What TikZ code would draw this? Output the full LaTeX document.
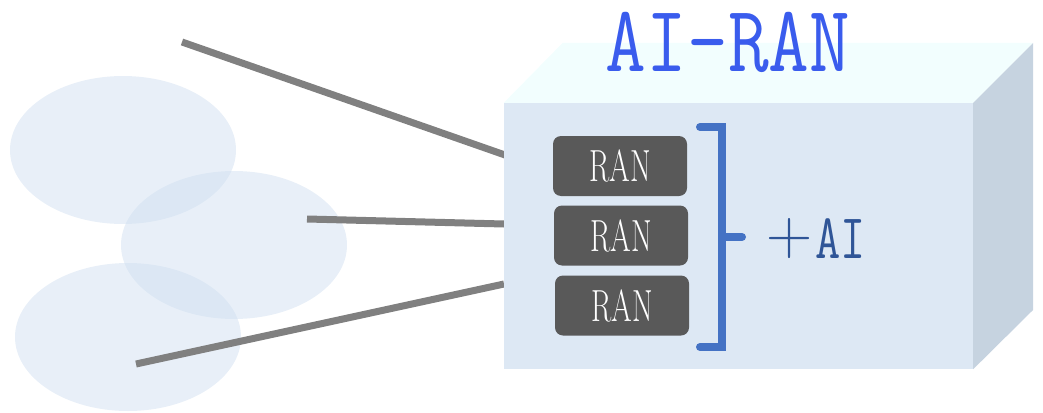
\documentclass[tikz,border=0pt]{standalone}
\usepackage{fontspec}
\definecolor{cellc}{RGB}{207,222,240}
\definecolor{frontc}{RGB}{221,232,244}
\definecolor{topc}{RGB}{242,254,254}
\definecolor{sidec}{RGB}{198,211,224}
\definecolor{linec}{RGB}{128,128,128}
\definecolor{ranc}{RGB}{89,89,89}
\definecolor{titlec}{RGB}{58,92,237}
\definecolor{bracketc}{RGB}{68,114,196}
\definecolor{aic}{RGB}{47,85,151}
\tikzset{
  cell/.style={fill=cellc, fill opacity=0.48},
  link/.style={draw=linec, line width=7pt},
  ranbox/.style={fill=ranc, rounded corners=8pt, minimum width=134pt, minimum height=60pt, inner sep=0pt, text=white},
  bracketline/.style={draw=bracketc, line width=8pt, line cap=round},
}
\newcommand{\rantext}{\scalebox{0.66}[1]{\fontsize{45}{45}\selectfont RAN}}
\begin{document}
\begin{tikzpicture}[x=1pt,y=-1pt]
\useasboundingbox (0,0) rectangle (1043,412);
% cells
\fill[cell] (123,150) ellipse [x radius=113pt, y radius=74pt];
\fill[cell] (234,245) ellipse [x radius=113pt, y radius=74pt];
\fill[cell] (128,337) ellipse [x radius=113pt, y radius=74pt];
% link ends
\coordinate (s1) at (182,42);
\coordinate (e1) at (505,155);
\coordinate (s2) at (307,219);
\coordinate (e2) at (504,224);
\coordinate (s3) at (136,364);
\coordinate (e3) at (504,284);
\draw[link] (s1) -- (e1);
\draw[link] (s2) -- (e2);
\draw[link] (s3) -- (e3);
% cube
\node[fill=frontc, minimum width=469pt, minimum height=266pt, inner sep=0pt] (front) at (738.5,236) {};
\fill[topc] (front.north west) -- ++(59,-60) -- ++(470,0) -- (front.north east) -- cycle;
\fill[sidec] (front.north east) -- ++(60,-60) -- ++(0,267) -- (front.south east) -- cycle;
% RAN boxes
\node[ranbox] (ran1) at (620,166) {\rantext};
\node[ranbox] (ran2) at (621,235.5) {\rantext};
\node[ranbox] (ran3) at (622,305.5) {\rantext};
% bracket
\coordinate (b1) at (700,127);
\coordinate (b2) at (722,127);
\coordinate (b3) at (722,347);
\coordinate (b4) at (700,347);
\coordinate (m1) at (722,237);
\coordinate (m2) at (742,237);
\draw[bracketline] (b1) -- (b2) -- (b3) -- (b4);
\draw[bracketline] (m1) -- (m2);
% texts
\node[anchor=base, text=titlec, inner sep=0pt] (title) at (728,71) {\scalebox{1}[1.2]{\fontsize{79}{79}\selectfont\ttfamily AI-RAN}};
\node[text=aic, inner sep=0pt] (plus) at (789.5,239) {\fontsize{64}{64}\selectfont +};
\node[anchor=base, text=aic, inner sep=0pt] (ai) at (840.5,258) {\scalebox{1}[1.3]{\fontsize{49}{49}\selectfont\ttfamily AI}};
\end{tikzpicture}
\end{document}
